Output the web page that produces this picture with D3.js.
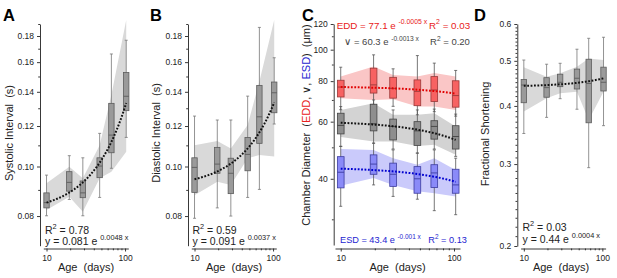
<!DOCTYPE html>
<html><head><meta charset="utf-8">
<script src="https://cdn.jsdelivr.net/npm/d3@7"></script>
<style>body{margin:0;background:#fff} svg{display:block}</style>
</head><body><svg id="c" width="617" height="278"></svg>
<script>
// ---------- data ----------
const ages = [10, 19.5, 29, 47.5, 67, 103.5];

// A: systolic interval (s)
const sysLo  = [0.0801, 0.0862, 0.0801, 0.0870, 0.0992, 0.1140];
const sysQ1  = [0.0830, 0.0895, 0.0869, 0.0951, 0.1064, 0.1286];
const sysMed = [0.0850, 0.0931, 0.0888, 0.1002, 0.1152, 0.1372];
const sysQ3  = [0.0888, 0.0977, 0.0937, 0.1040, 0.1329, 0.1527];
const sysHi  = [0.0962, 0.1050, 0.1040, 0.1161, 0.1660, 0.1766];
const sysBandLo = [0.0822, 0.0873, 0.0816, 0.0948, 0.0977, 0.1069];
const sysBandHi = [0.0927, 0.0999, 0.0948, 0.1100, 0.1380, 0.1934];
const sysFit = [0.081, 0.0048];

// B: diastolic interval (s)
const diaLo  = [0.0792, 0.0830, 0.0800, 0.0870, 0.0902, 0.1211];
const diaQ1  = [0.0890, 0.0970, 0.0885, 0.0981, 0.1110, 0.1274];
const diaMed = [0.0996, 0.1011, 0.0970, 0.1056, 0.1251, 0.1394];
const diaQ3  = [0.1040, 0.1090, 0.1038, 0.1140, 0.1441, 0.1463];
const diaHi  = [0.1255, 0.1233, 0.1233, 0.1373, 0.1871, 0.1632];
const diaBandLo = [0.0879, 0.0934, 0.0920, 0.1038, 0.1053, 0.1046];
const diaBandHi = [0.1100, 0.1122, 0.1085, 0.1206, 0.1467, 0.1934];
const diaFit = [0.091, 0.0037];

// C: chamber diameters (um)
const eddLo  = [65.3, 67.6, 66.9, 63.0, 64.4, 62.4];
const eddQ1  = [71.5, 73.5, 70.9, 67.2, 69.2, 66.5];
const eddMed = [76.7, 77.9, 76.0, 74.4, 75.1, 72.2];
const eddQ3  = [80.5, 87.7, 82.2, 80.7, 82.6, 80.2];
const eddHi  = [88.3, 96.4, 87.3, 95.9, 90.9, 86.3];
const eddBandLo = [70.9, 70.0, 70.4, 66.8, 66.8, 65.2];
const eddBandHi = [82.6, 88.7, 83.6, 82.6, 84.7, 82.6];
const eddFit = [77.1, -0.0005];

const avgLo  = [50.3, 51.5, 49.4, 48.0, 49.4, 46.9];
const avgQ1  = [55.0, 56.2, 52.7, 50.7, 53.0, 49.4];
const avgMed = [58.4, 59.1, 58.0, 56.2, 58.0, 54.0];
const avgQ3  = [63.7, 67.9, 61.1, 60.0, 60.4, 58.3];
const avgHi  = [66.8, 70.0, 65.2, 65.2, 65.6, 63.3];
const avgBandLo = [53.8, 52.1, 52.1, 50.5, 50.9, 47.4];
const avgBandHi = [65.2, 68.4, 63.0, 63.0, 63.7, 58.0];
const avgFit = [60.3, -0.0013];

const esdLo  = [32.9, 38.3, 35.3, 34.6, 31.9, 31.0];
const esdQ1  = [37.5, 41.3, 37.9, 36.1, 37.6, 36.1];
const esdMed = [41.9, 44.4, 41.3, 40.0, 41.7, 38.3];
const esdQ3  = [46.8, 47.4, 44.7, 43.6, 44.2, 42.8];
const esdHi  = [50.4, 51.5, 49.1, 48.0, 49.1, 46.3];
const esdBandLo = [38.1, 40.2, 38.3, 36.6, 36.1, 35.3];
const esdBandHi = [49.4, 49.1, 46.3, 44.2, 46.3, 42.6];
const esdFit = [43.4, -0.001];

// D: fractional shortening
const fsLo  = [0.349, 0.378, 0.4146, 0.3935, 0.2947, 0.3628];
const fsQ1  = [0.4064, 0.4176, 0.440, 0.435, 0.368, 0.4307];
const fsMed = [0.4436, 0.438, 0.4497, 0.4587, 0.447, 0.4497];
const fsQ3  = [0.456, 0.460, 0.468, 0.480, 0.504, 0.4846];
const fsHi  = [0.502, 0.4917, 0.494, 0.5296, 0.559, 0.5619];
const fsBandLo = [0.389, 0.4154, 0.426, 0.429, 0.373, 0.429];
const fsBandHi = [0.4846, 0.462, 0.470, 0.4858, 0.506, 0.502];
const fsFit = [0.44, 0.0004];

const xTicks = [10, 100];
const xMinor = [20, 30, 40, 50, 60, 70, 80, 90];
const abTicks = [0.08, 0.10, 0.12, 0.14, 0.16, 0.18];
const abMinor = [0.09, 0.11, 0.13, 0.15, 0.17, 0.19];
const cTicks = [40, 60, 80, 100, 120];
const cMinor = [30, 50, 70, 90, 110];
const dTicks = [0.2, 0.3, 0.4, 0.5, 0.6];

// ---------- drawing ----------
const FONT = '"Liberation Sans", Arial, Helvetica, sans-serif';
const svg = d3.select('#c').style('font-family', FONT);
const INK = '#222';
const AXY = 248.5;

function panel(p) {
  const g = svg.append('g');
  const x = d3.scaleLog().domain(p.xDom).range(p.xR);
  const y = d3.scaleLog().domain(p.yDom).range(p.yR);
  g.append('g').attr('transform', `translate(${p.axX},0)`)
    .call(d3.axisLeft(y).tickValues(p.yT).tickSize(3).tickSizeOuter(0).tickFormat(p.fmt));
  const gym = g.append('g').attr('transform', `translate(${p.axX},0)`)
    .call(d3.axisLeft(y).tickValues(p.yM).tickSize(1.8).tickFormat(''));
  gym.select('.domain').remove();
  g.append('g').attr('transform', `translate(0,${AXY})`)
    .call(d3.axisBottom(x).tickValues(xTicks).tickSize(3).tickSizeOuter(0).tickFormat(d3.format('d')));
  const gxm = g.append('g').attr('transform', `translate(0,${AXY})`)
    .call(d3.axisBottom(x).tickValues(xMinor).tickSize(1.8).tickFormat(''));
  gxm.select('.domain').remove();
  g.selectAll('.domain, .tick line').attr('stroke', INK).attr('stroke-width', 0.9);
  g.selectAll('.tick text').attr('fill', INK).style('font-size', '8.5px').style('font-family', FONT);
  g.append('text').attr('x', p.letterX).attr('y', 21).text(p.letter)
    .style('font-size', '16.5px').style('font-weight', 'bold').attr('fill', '#000');
  g.append('text').attr('x', p.xLabX).attr('y', 271).attr('text-anchor', 'middle')
    .style('font-size', '11px').attr('fill', INK).text('Age\u00a0 (days)');
  return {g, x, y};
}

function series(P, s) {
  const {x, y} = P;
  const area = d3.area().x((d, i) => x(ages[i])).y0((d, i) => y(s.bLo[i])).y1((d, i) => y(s.bHi[i]));
  s.layerBand.append('path').attr('d', area(ages)).attr('fill', s.band).attr('stroke', 'none');
  const gb = s.layerBox.append('g');
  ages.forEach((a, i) => {
    const cx = x(a), hw = s.w / 2;
    gb.append('line').attr('x1', cx).attr('x2', cx).attr('y1', y(s.hi[i])).attr('y2', y(s.lo[i]))
      .attr('stroke', s.wk).attr('stroke-width', 0.8);
    [s.hi[i], s.lo[i]].forEach(v => gb.append('line').attr('x1', cx - 1.5).attr('x2', cx + 1.5)
      .attr('y1', y(v)).attr('y2', y(v)).attr('stroke', s.wk).attr('stroke-width', 0.8));
    gb.append('rect').attr('x', cx - hw).attr('width', s.w).attr('y', y(s.q3[i]))
      .attr('height', y(s.q1[i]) - y(s.q3[i])).attr('fill', s.fill).attr('stroke', s.stroke).attr('stroke-width', 0.8);
    gb.append('line').attr('x1', cx - hw).attr('x2', cx + hw).attr('y1', y(s.med[i])).attr('y2', y(s.med[i]))
      .attr('stroke', s.stroke).attr('stroke-width', 0.9);
  });
  const n = 40, a0 = Math.log(ages[0]), a1 = Math.log(ages[ages.length - 1]);
  const pts = d3.range(n + 1).map(k => Math.exp(a0 + (a1 - a0) * k / n));
  const line = d3.line().x(a => x(a)).y(a => y(s.fit[0] * Math.exp(s.fit[1] * a)));
  s.layerFit.append('path').attr('d', line(pts)).attr('fill', 'none').attr('stroke', s.fitC)
    .attr('stroke-width', 2).attr('stroke-dasharray', '1.8,1.6');
}

function eq(g, x, y, parts, color, size) {
  const t = g.append('text').attr('x', x).attr('y', y).attr('fill', color).style('font-size', size + 'px')
    .style('white-space', 'pre');
  let up = false;
  const rise = size * 0.43;
  parts.forEach(pt => {
    const ts = t.append('tspan').text(pt.t);
    if (pt.sup) { ts.style('font-size', (size * 0.7) + 'px'); if (!up) { ts.attr('dy', -rise); up = true; } }
    else if (up) { ts.attr('dy', rise); up = false; }
  });
}

function yLabel(g, x, y, parts) {
  const t = g.append('text').attr('transform', `translate(${x},${y}) rotate(-90)`).attr('text-anchor', 'middle')
    .style('font-size', '11px').attr('fill', INK);
  parts.forEach(pt => t.append('tspan').text(pt.t).attr('fill', pt.c || INK));
}

const grayStyle = {w: 5.4, fill: '#9a9a9a', stroke: '#5c5c5c', wk: '#777', band: '#d9d9d9', fitC: '#111'};

function simple(p, d) {
  const P = panel(p);
  const lb = P.g.insert('g', ':first-child'), lx = P.g.append('g'), lf = P.g.append('g');
  series(P, Object.assign({}, grayStyle, d, {layerBand: lb, layerBox: lx, layerFit: lf}));
  return P;
}

// Panel A
const PA = simple({letter: 'A', letterX: 3, axX: 40, xDom: [9.1, 110], xR: [43.3, 128.3],
  yDom: [0.07, 0.19], yR: [245.7, 24], yT: abTicks, yM: abMinor, fmt: d3.format('.2f'), xLabX: 86},
  {lo: sysLo, q1: sysQ1, med: sysMed, q3: sysQ3, hi: sysHi, bLo: sysBandLo, bHi: sysBandHi, fit: sysFit});
yLabel(PA.g, 12.5, 133, [{t: 'Systolic Interval\u00a0 (s)'}]);
eq(PA.g, 45, 234, [{t: 'R'}, {t: '2', sup: true}, {t: ' = 0.78'}], INK, 10.5);
eq(PA.g, 45, 244.5, [{t: 'y = 0.081 e '}, {t: '0.0048 x', sup: true}], INK, 10.5);

// Panel B
const PB = simple({letter: 'B', letterX: 150, axX: 188, xDom: [9.1, 110], xR: [191.3, 276.3],
  yDom: [0.07, 0.19], yR: [245.7, 24], yT: abTicks, yM: abMinor, fmt: d3.format('.2f'), xLabX: 234},
  {lo: diaLo, q1: diaQ1, med: diaMed, q3: diaQ3, hi: diaHi, bLo: diaBandLo, bHi: diaBandHi, fit: diaFit});
yLabel(PB.g, 160, 133, [{t: 'Diastolic Interval\u00a0 (s)'}]);
eq(PB.g, 192.5, 234, [{t: 'R'}, {t: '2', sup: true}, {t: ' = 0.59'}], INK, 10.5);
eq(PB.g, 192.5, 244.5, [{t: 'y = 0.091 e '}, {t: '0.0037 x', sup: true}], INK, 10.5);

// Panel C
const RED = '#e82020', BLUE = '#2424d0';
const PC = panel({letter: 'C', letterX: 302, axX: 333.7, xDom: [8.9, 113], xR: [335, 460],
  yDom: [25, 120], yR: [245, 24], yT: cTicks, yM: cMinor, fmt: d3.format('d'), xLabX: 397.5});
{
  const lb = PC.g.insert('g', ':first-child'), lx = PC.g.append('g'), lf = PC.g.append('g');
  const common = {w: 6.7, wk: '#555', layerBand: lb, layerBox: lx, layerFit: lf};
  series(PC, Object.assign({}, common, {lo: eddLo, q1: eddQ1, med: eddMed, q3: eddQ3, hi: eddHi,
    bLo: eddBandLo, bHi: eddBandHi, fit: eddFit, fill: '#f76262', stroke: '#9a3838', band: '#fac6c6', fitC: '#e00000'}));
  series(PC, Object.assign({}, common, {lo: avgLo, q1: avgQ1, med: avgMed, q3: avgQ3, hi: avgHi,
    bLo: avgBandLo, bHi: avgBandHi, fit: avgFit, fill: '#8e8e8e', stroke: '#444', band: '#d3d3d3', fitC: '#111'}));
  series(PC, Object.assign({}, common, {lo: esdLo, q1: esdQ1, med: esdMed, q3: esdQ3, hi: esdHi,
    bLo: esdBandLo, bHi: esdBandHi, fit: esdFit, fill: '#8a8af8', stroke: '#3c3ca0', band: '#cacafb', fitC: '#0000d0'}));
}
yLabel(PC.g, 309.5, 125, [{t: 'Chamber Diameter\u00a0 ('}, {t: 'EDD', c: RED}, {t: ', \u2228, '}, {t: 'ESD', c: BLUE}, {t: ')\u00a0 (\u03bcm)'}]);
eq(PC.g, 336.7, 28.5, [{t: 'EDD = 77.1 e '}, {t: '-0.0005 x', sup: true}], RED, 9.8);
eq(PC.g, 429, 28.5, [{t: 'R'}, {t: '2', sup: true}, {t: ' = 0.03'}], RED, 9.8);
eq(PC.g, 344.3, 45, [{t: '\u2228 = 60.3 e '}, {t: '-0.0013 x', sup: true}], '#444', 9.5);
eq(PC.g, 430, 45, [{t: 'R'}, {t: '2', sup: true}, {t: ' = 0.20'}], '#444', 9.5);
eq(PC.g, 340, 243, [{t: 'ESD = 43.4 e '}, {t: '-0.001 x', sup: true}], BLUE, 9.2);
eq(PC.g, 428.3, 243, [{t: 'R'}, {t: '2', sup: true}, {t: ' = 0.13'}], BLUE, 9.2);

// Panel D
const dMinor = d3.range(21, 60).filter(k => k % 10 !== 0).map(k => k / 100);
const PD = simple({letter: 'D', letterX: 474, axX: 517.3, xDom: [9.1, 110], xR: [520.6, 605.6],
  yDom: [0.2, 0.6], yR: [246, 24], yT: dTicks, yM: dMinor, fmt: d3.format('.1f'), xLabX: 561},
  {lo: fsLo, q1: fsQ1, med: fsMed, q3: fsQ3, hi: fsHi, bLo: fsBandLo, bHi: fsBandHi, fit: fsFit});
yLabel(PD.g, 489, 134, [{t: 'Fractional Shortening'}]);
eq(PD.g, 522.5, 231, [{t: 'R'}, {t: '2', sup: true}, {t: ' = 0.03'}], INK, 10.5);
eq(PD.g, 522.5, 242.5, [{t: 'y = 0.44 e '}, {t: '0.0004 x', sup: true}], INK, 10.5);
</script></body></html>
